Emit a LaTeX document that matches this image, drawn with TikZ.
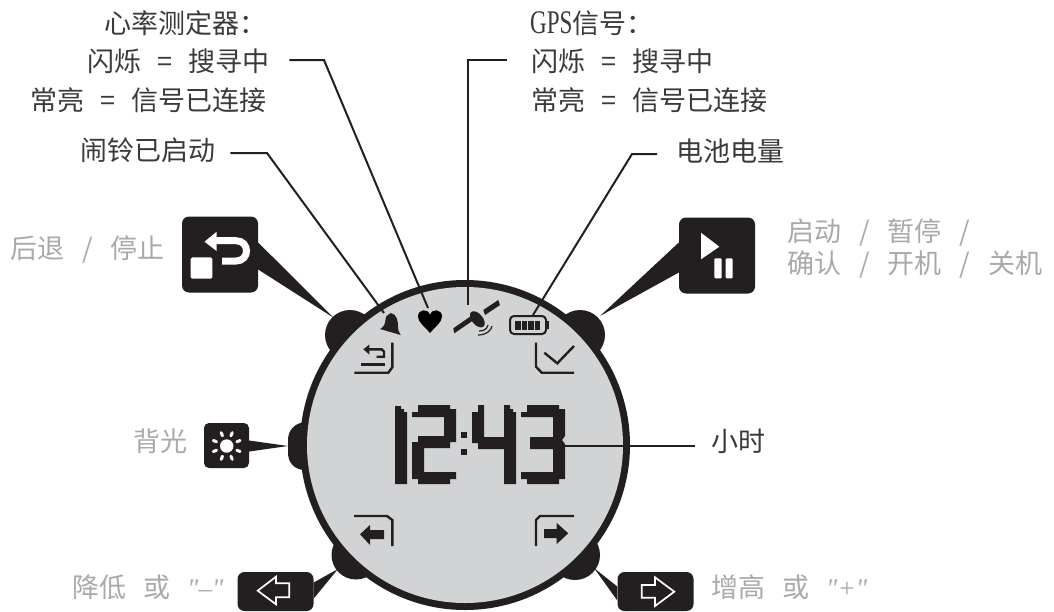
\documentclass[tikz,border=0pt]{standalone}
\usepackage{fontspec}
\usepackage{xcolor}
\usetikzlibrary{calc}
\setmainfont{Noto Sans CJK SC}
\newfontfamily\latinfont[FakeStretch=0.7]{Liberation Serif}
\newfontfamily\quotefont{Liberation Serif}
\definecolor{inkdark}{HTML}{231F20}
\definecolor{lcdgray}{HTML}{D1D3D4}
\definecolor{labeldark}{HTML}{3A3A3A}
\definecolor{labelgray}{HTML}{A7A9AC}
\newcommand{\eqgap}{\hspace{16pt}}
\newcommand{\slashgap}{\hspace{18pt}}
\tikzset{
	lbl/.style={anchor=base west,inner sep=0pt,font=\fontsize{27pt}{27pt}\selectfont,text=labeldark},
	lblgray/.style={lbl,text=labelgray},
	keybox/.style={fill=inkdark,rounded corners=7pt,minimum width=76pt,minimum height=76pt,inner sep=0pt},
	leader/.style={draw=inkdark,line width=2pt},
	lcdline/.style={draw=inkdark,line width=2.4pt,line cap=butt},
	whiteline/.style={draw=white,line width=1.7pt}
}
\begin{document}
\begin{tikzpicture}[x=1pt,y=-1pt]
	\useasboundingbox (0,0) rectangle (1054,611);
	% buttons, then the case
	\fill[inkdark] (350,335) circle [radius=25pt];
	\fill[inkdark] (580,335) circle [radius=25pt];
	\fill[inkdark] (356,555) circle [radius=24.5pt];
	\fill[inkdark] (575,555) circle [radius=25pt];
	\fill[inkdark] (310,422) -- (305,422) .. controls (295,423) and (288,430) .. (288,440) -- (288,453) .. controls (288,463) and (295,470) .. (305,470) -- (310,470) -- cycle;
	\fill[inkdark] (465,445) circle [radius=165pt];
	\fill[lcdgray] (465,445) circle [radius=158pt];
	% labels
	\node[lbl] (hrhead) at (104,33) {心率测定器：};
	\node[lbl] (hrflash) at (87,71) {闪烁\eqgap=\eqgap 搜寻中};
	\node[lbl] (hrsteady) at (30,110) {常亮\eqgap=\eqgap 信号已连接};
	\node[lbl] (alarm) at (80,160) {闹铃已启动};
	\node[lbl] (gpshead) at (530,33) {{\latinfont\fontsize{33pt}{33pt}\selectfont GPS}信号：};
	\node[lbl] (gpsflash) at (531,71) {闪烁\eqgap=\eqgap 搜寻中};
	\node[lbl] (gpssteady) at (531,110) {常亮\eqgap=\eqgap 信号已连接};
	\node[lbl] (battery) at (676,161) {电池电量};
	\node[lbl] (hours) at (711,451) {小时};
	\node[lblgray] (backlbl) at (10,258) {后退\slashgap/\slashgap 停止};
	\node[lblgray] (startlbl) at (787,241) {启动\slashgap/\slashgap 暂停\slashgap/};
	\node[lblgray] (confirmlbl) at (787,273) {确认\slashgap/\slashgap 开机\slashgap/\slashgap 关机};
	\node[lblgray] (lightlbl) at (133,451) {背光};
	\node[lblgray] (downlbl) at (72,597) {降低\hspace{17pt}或\hspace{17pt}{\quotefont\itshape "–"}};
	\node[lblgray] (uplbl) at (711,597) {增高\hspace{17pt}或\hspace{17pt}{\quotefont\itshape "+"}};
	% key boxes
	\node[keybox] (backkey) at (220,254.5) {};
	\node[keybox] (startkey) at (717,255.5) {};
	\node[keybox,minimum width=45pt,minimum height=45pt,rounded corners=5pt] (lightkey) at (226.5,445.5) {};
	\node[keybox,minimum height=39pt] (downkey) at (275.5,591.5) {};
	\node[keybox,minimum height=39pt] (upkey) at (655.5,591.5) {};
	\coordinate (backtip) at (334,318);
	\coordinate (starttip) at (600,316);
	\coordinate (lighttip) at (288,446);
	\coordinate (downtip) at (338,569);
	\coordinate (uptip) at (594,568);
	\fill[inkdark] ([yshift=12pt]backkey.east) -- ([yshift=-15pt]backkey.east) -- (backtip) -- cycle;
	\fill[inkdark] ([yshift=13pt]startkey.west) -- ([yshift=-17pt]startkey.west) -- (starttip) -- cycle;
	\fill[inkdark] ([yshift=5pt]lightkey.east) -- ([yshift=-6pt]lightkey.east) -- (lighttip) -- cycle;
	\fill[inkdark] ([yshift=9pt]downkey.east) -- ([yshift=-7pt]downkey.east) -- (downtip) -- cycle;
	\fill[inkdark] ([yshift=5pt]upkey.west) -- ([yshift=-9pt]upkey.west) -- (uptip) -- cycle;
	% key icons
	\fill[white,rounded corners=1.5pt] (190.7,257.3) rectangle (212.3,278.7);
	\fill[white] (204.5,241.7) -- (216.7,231.7) -- (216.7,251) -- cycle;
	\draw[white,line width=7pt] (215,240.7) -- (236,240.7) .. controls (250,240.7) and (250,261) .. (236,261) -- (222,261);
	\fill[white] (701,232.7) -- (719.3,246.7) -- (701,259.3) -- cycle;
	\fill[white,rounded corners=1pt] (714.3,258.3) rectangle (721.7,278.3);
	\fill[white,rounded corners=1pt] (725.7,258.3) rectangle (732.7,278.3);
	\fill[white] (226.7,446) circle [radius=6.7pt];
	\foreach \a in {22.5,67.5,...,337.5}
		\draw[white,line width=3pt,line cap=round] ($(226.7,446)+(\a:11)$) -- ($(226.7,446)+(\a:14.5)$);
	\draw[whiteline] (257.7,590.7) -- (276,576.7) -- (276,583.3) -- (289.3,583.3) -- (289.3,597.3) -- (276,597.3) -- (276,604.3) -- cycle;
	\draw[whiteline] (674.3,591.7) -- (655,577.3) -- (655,585) -- (641.7,585) -- (641.7,597.7) -- (655,597.7) -- (655,606) -- cycle;
	% lcd symbols
	\fill[inkdark] (391,313) .. controls (397,314) and (398,322) .. (398,326) .. controls (398,330) .. (400.7,335) -- (380,329) .. controls (384,327) and (385,324) .. (385.5,320) .. controls (386,316) .. cycle;
	\fill[black] (430,333) .. controls (424,326) and (418,322) .. (418,316.5) .. controls (418,309) and (428,308) .. (430,315) .. controls (432,308) and (442,309) .. (442,316.5) .. controls (442,322) and (436,326) .. cycle;
	\fill[inkdark] (453.3,328.3) -- (470,316.7) -- (472.3,321) -- (454.3,333.3) -- cycle;
	\fill[inkdark] (483.3,310) -- (498.3,300) -- (500,305) -- (485,315) -- cycle;
	\fill[inkdark,rotate around={-50:(477.3,319.3)}] (477.3,319.3) ellipse [x radius=9.5pt,y radius=5.5pt];
	\draw[inkdark,line width=1.2pt] (479,331) .. controls (484,331) and (487,329) .. (488,325);
	\draw[inkdark,line width=1.2pt] (478,335) .. controls (486,335) and (491,331) .. (492,326);
	\draw[inkdark,line width=2pt,rounded corners=4pt] (510,316) rectangle (546,334);
	\fill[inkdark] (546,321) rectangle (548.5,329);
	\foreach \cx in {515,521.5,528,534.5}
		\fill[inkdark] (\cx,321) rectangle ++(5.5,8.5);
	% soft key marks
	\draw[lcdline] (354.3,372.7) -- (388.3,372.7) -- (392.3,367.3) -- (392.3,342.7);
	\draw[lcdline] (360.7,364.3) -- (385,364.3);
	\fill[inkdark] (363.3,349.3) -- (369.3,344.5) -- (369.3,354.5) -- cycle;
	\draw[lcdline] (368,349.3) -- (381.7,349.3) -- (384,351.7) -- (384,356.7) -- (376.7,356.7);
	\draw[lcdline] (536,342.7) -- (536,366.7) -- (541.7,372.7) -- (574,372.7);
	\draw[lcdline] (544.3,352.7) -- (557.3,363.3) -- (574,346);
	\draw[lcdline] (354,516) -- (387,516) -- (392.3,520) -- (392.3,546);
	\fill[inkdark] (360,534.3) -- (370,525) -- (370,530) -- (384,530) -- (384,539) -- (370,539) -- (370,545) -- cycle;
	\draw[lcdline] (574,516) -- (540,516) -- (536,520) -- (536,546);
	\fill[inkdark] (568.3,533.3) -- (556.7,523) -- (556.7,529) -- (544,529) -- (544,538) -- (556.7,538) -- (556.7,544) -- cycle;
	% time digits
	\fill[inkdark] (395,406) -- (401,406) -- (401,409) -- (404,409) -- (404,412) -- (407,412) -- (407,484) -- (395,484) -- cycle;
	\fill[inkdark] (412,417) -- (412,412) -- (418,412) -- (418,405) -- (450,405) -- (450,409) -- (456,409) -- (456,442) -- (450,442) -- (450,448) -- (424,448) -- (424,472) -- (456,472) -- (456,479) -- (450,479) -- (450,484) -- (418,484) -- (418,479) -- (412,479) -- (412,442) -- (418,442) -- (418,436) -- (444,436) -- (444,417) -- cycle;
	\fill[inkdark] (461,432) rectangle (467,438);
	\fill[inkdark] (461,449) rectangle (467,455);
	\fill[inkdark] (472,412) -- (478,412) -- (478,405) -- (484,405) -- (484,437) -- (504,437) -- (504,405) -- (510,405) -- (510,409) -- (513,409) -- (513,412) -- (516,412) -- (516,484) -- (504,484) -- (504,449) -- (478,449) -- (478,443) -- (472,443) -- cycle;
	\fill[inkdark] (527,405) -- (559,405) -- (559,409) -- (565,409) -- (565,436) -- (562,440) -- (565,444) -- (565,479) -- (559,479) -- (559,484) -- (527,484) -- (527,479) -- (521,479) -- (521,472) -- (553,472) -- (553,449) -- (530,449) -- (530,437) -- (553,437) -- (553,417) -- (521,417) -- (521,412) -- (527,412) -- cycle;
	% leader lines
	\coordinate (alarmend) at (384,313);
	\coordinate (heartend) at (428,308);
	\coordinate (gpsend) at (468,305);
	\coordinate (batteryend) at (533,315);
	\coordinate (hoursend) at (565,445.5);
	\draw[leader] ([xshift=20pt,yshift=11pt]hrflash.base east) -- (324,60) -- (heartend);
	\draw[leader] ([xshift=15pt,yshift=7pt]alarm.base east) -- (267,153) -- (alarmend);
	\draw[leader] ([xshift=-24pt,yshift=11pt]gpsflash.base west) -- (468,60) -- (gpsend);
	\draw[leader] ([xshift=-19pt,yshift=7pt]battery.base west) -- (632,154) -- (batteryend);
	\draw[leader] ([xshift=-16pt,yshift=5.5pt]hours.base west) -- (hoursend);
\end{tikzpicture}
\end{document}
